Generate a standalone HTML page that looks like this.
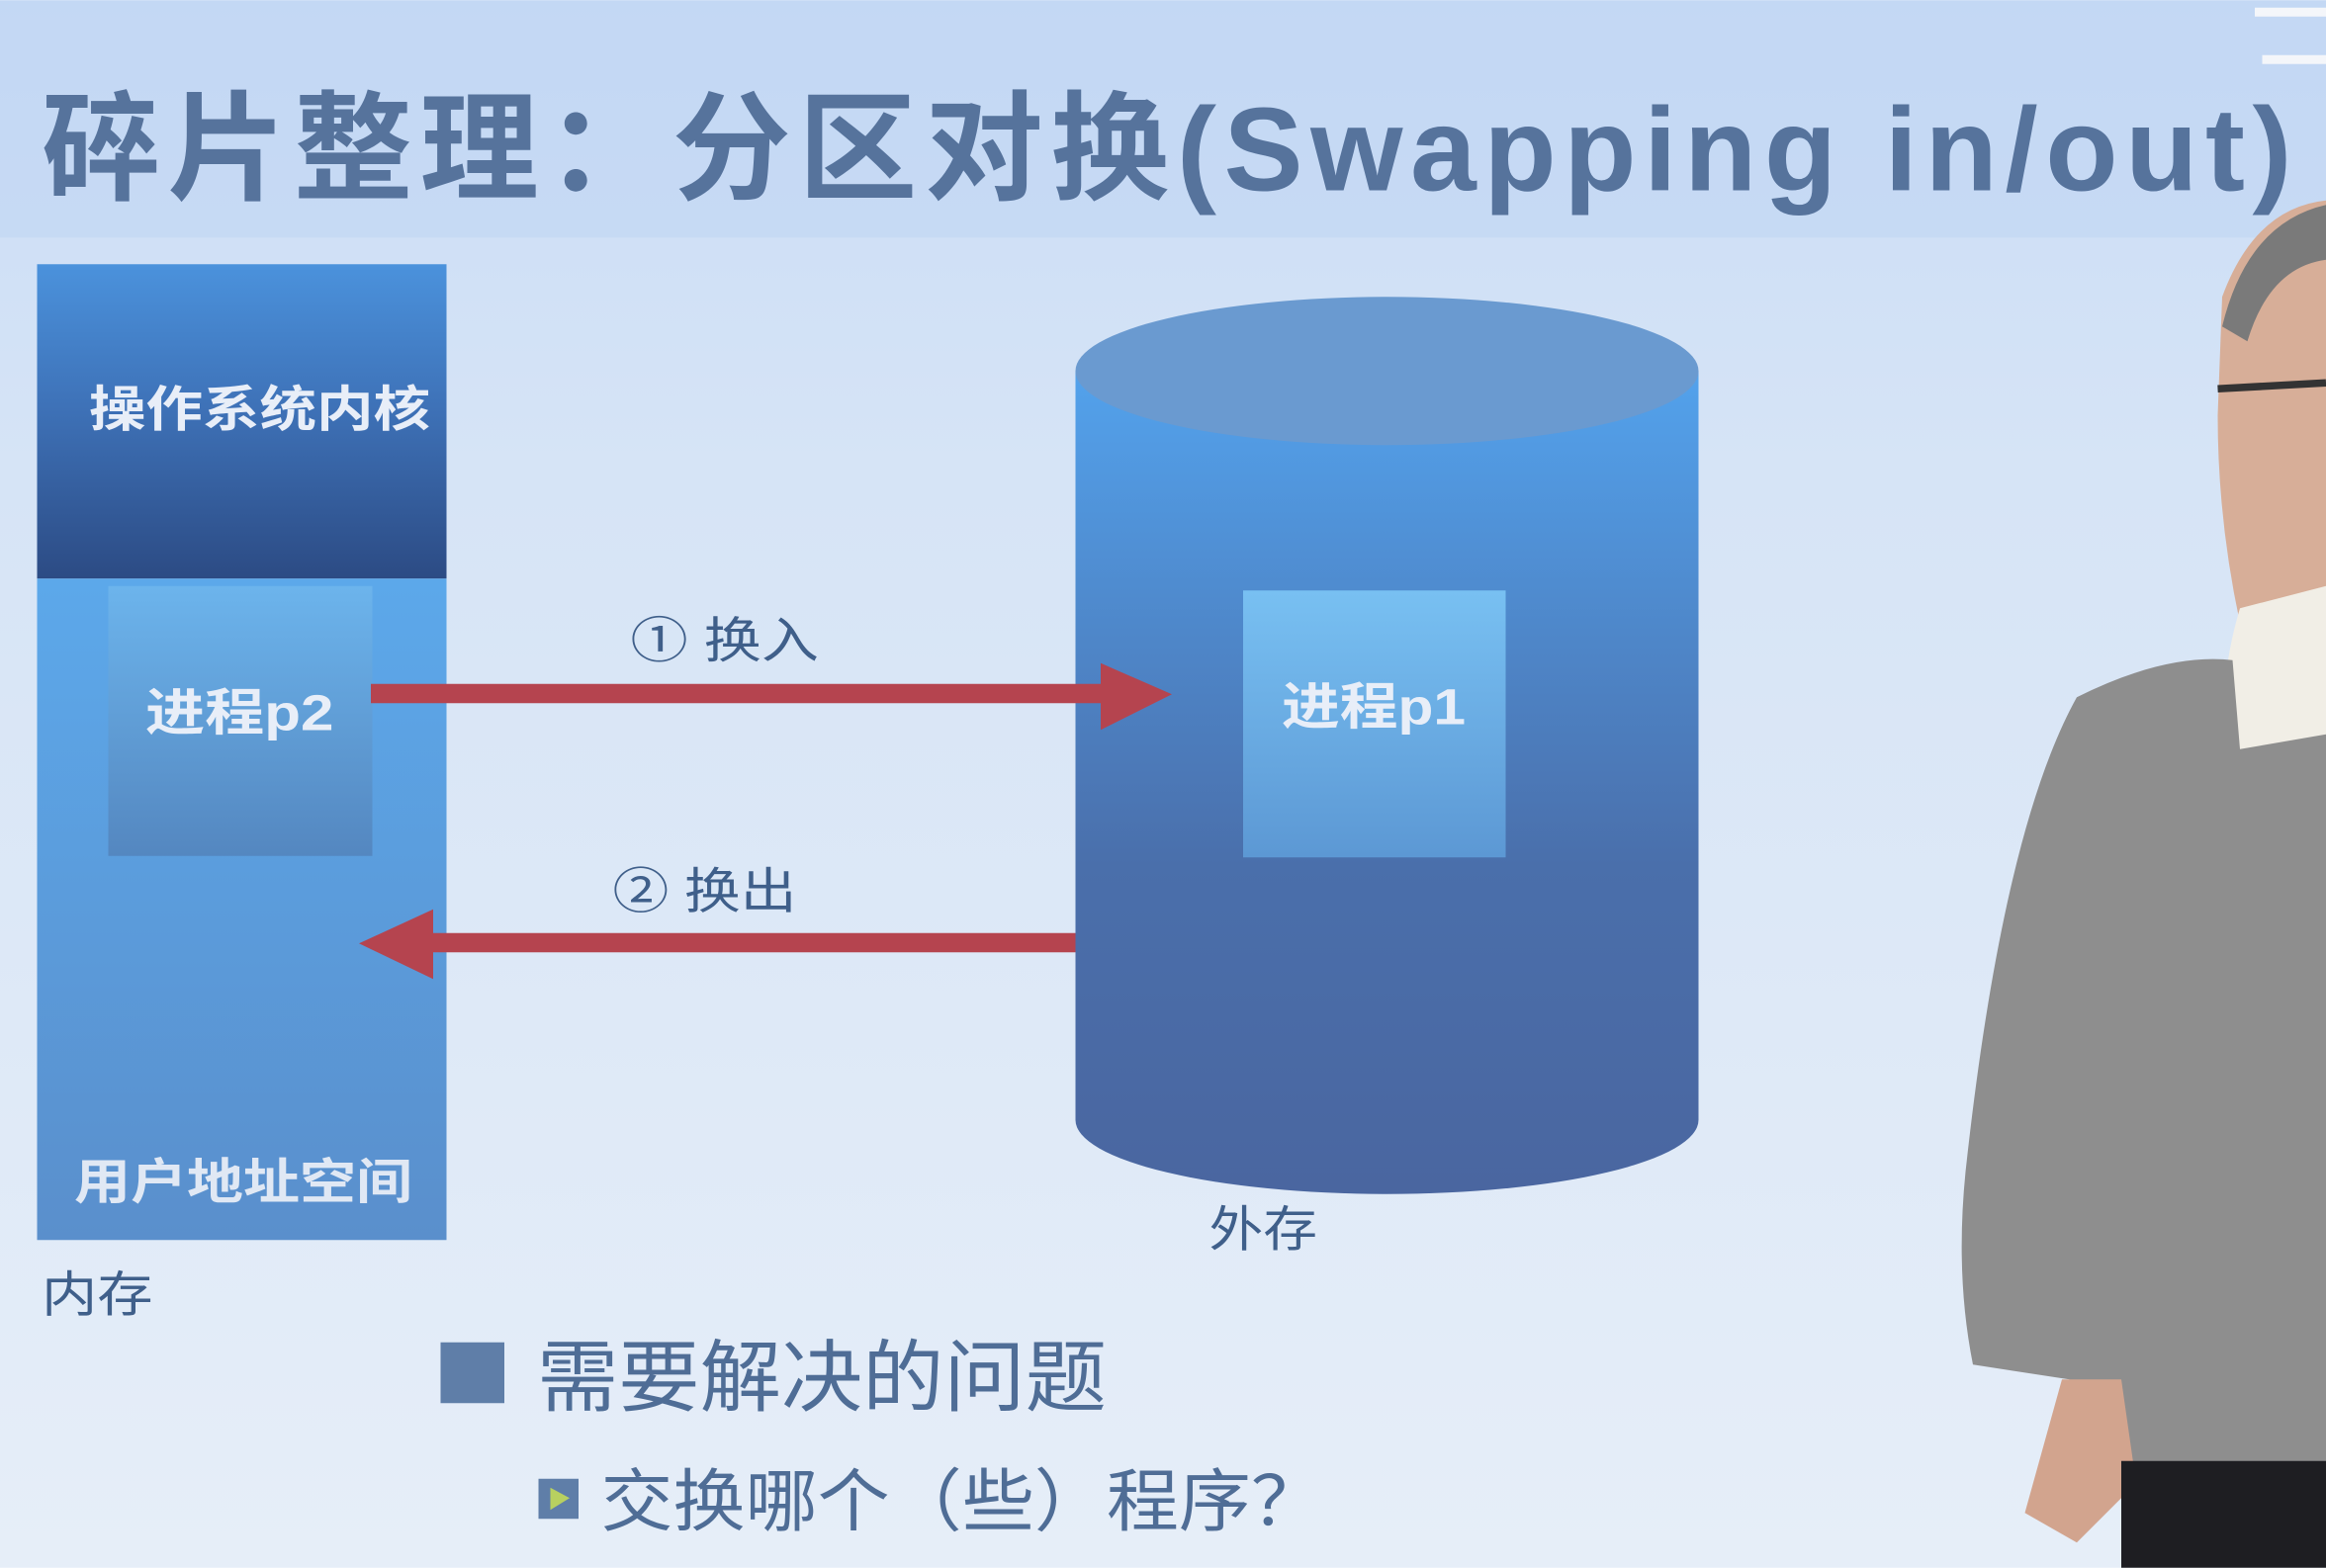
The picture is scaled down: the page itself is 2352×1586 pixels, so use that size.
<!DOCTYPE html>
<html><head><meta charset="utf-8"><style>
html,body{margin:0;padding:0;width:2352px;height:1586px;overflow:hidden}
svg{display:block}
text{font-family:"Liberation Sans","Noto Sans CJK SC",sans-serif}
</style></head><body>
<svg width="2352" height="1586" viewBox="0 0 1568 1057" xmlns="http://www.w3.org/2000/svg">
<defs>
<linearGradient id="bg" x1="0" y1="0" x2="0" y2="1"><stop offset="0" stop-color="#c9dcf5"/><stop offset="0.3" stop-color="#d6e4f6"/><stop offset="1" stop-color="#e6eef8"/></linearGradient>
<linearGradient id="os" x1="0" y1="0" x2="0" y2="1"><stop offset="0" stop-color="#4b92dc"/><stop offset="0.45" stop-color="#3e72b8"/><stop offset="1" stop-color="#2c4b84"/></linearGradient>
<linearGradient id="us" x1="0" y1="0" x2="0" y2="1"><stop offset="0" stop-color="#5ca8ea"/><stop offset="1" stop-color="#5a8fcc"/></linearGradient>
<linearGradient id="p2" x1="0" y1="0" x2="0" y2="1"><stop offset="0" stop-color="#6cb4ec"/><stop offset="1" stop-color="#5487c0"/></linearGradient>
<linearGradient id="cyl" x1="0" y1="0" x2="0" y2="1"><stop offset="0" stop-color="#53a2ec"/><stop offset="0.6" stop-color="#4a6fab"/><stop offset="1" stop-color="#4a66a0"/></linearGradient>
<linearGradient id="p1" x1="0" y1="0" x2="0" y2="1"><stop offset="0" stop-color="#78c0f2"/><stop offset="1" stop-color="#5c98d4"/></linearGradient>
</defs>
<rect width="1568" height="1057" fill="url(#bg)"/>
<rect width="1568" height="160" fill="#bdd3f3" opacity="0.5"/>
<text x="28" y="128" font-size="80" font-weight="bold" fill="#56739c" textLength="1517" lengthAdjust="spacing">碎片整理：分区对换(Swapping in/out)</text>
<!-- memory -->
<rect x="25" y="178" width="276" height="212" fill="url(#os)"/>
<rect x="25" y="390" width="276" height="446" fill="url(#us)"/>
<rect x="73" y="395" width="178" height="182" fill="url(#p2)"/>
<text x="60" y="287" font-size="33" font-weight="bold" fill="#e8eef8" textLength="230" lengthAdjust="spacingAndGlyphs">操作系统内核</text>
<text x="98" y="492" font-size="34" font-weight="bold" fill="#e8eef8" textLength="127" lengthAdjust="spacingAndGlyphs">进程p2</text>
<text x="50" y="808" font-size="33" font-weight="bold" fill="#e0e8f4" textLength="228" lengthAdjust="spacingAndGlyphs">用户地址空间</text>
<text x="28" y="884" font-size="33" fill="#3f5f8a" textLength="75" lengthAdjust="spacingAndGlyphs">内存</text>
<!-- cylinder -->
<path d="M725 250 L725 755 A210 50 0 0 0 1145 755 L1145 250 Z" fill="url(#cyl)"/>
<ellipse cx="935" cy="250" rx="210" ry="50" fill="#6a9ad0"/>
<rect x="838" y="398" width="177" height="180" fill="url(#p1)"/>
<text x="864" y="488" font-size="34" font-weight="bold" fill="#e8eef8" textLength="124" lengthAdjust="spacingAndGlyphs">进程p1</text>
<text x="815" y="840" font-size="33" fill="#3f5f8a" textLength="73" lengthAdjust="spacingAndGlyphs">外存</text>
<!-- arrows -->
<rect x="250" y="461" width="500" height="13" fill="#b5444f"/>
<polygon points="742,447 790,468 742,492" fill="#b5444f"/>
<rect x="285" y="629" width="440" height="13" fill="#b5444f"/>
<polygon points="292,613 242,636 292,660" fill="#b5444f"/>
<text x="425" y="443" font-size="33" fill="#3f5f8a" textLength="127" lengthAdjust="spacingAndGlyphs">① 换入</text>
<text x="413" y="612" font-size="33" fill="#3f5f8a" textLength="124" lengthAdjust="spacingAndGlyphs">② 换出</text>
<!-- bullets -->
<rect x="297" y="905" width="43" height="41" fill="#5f7ea8"/>
<text x="362" y="947" font-size="53" fill="#4f6d96" textLength="384" lengthAdjust="spacingAndGlyphs">需要解决的问题</text>
<rect x="363" y="997" width="27" height="27" fill="#5f7ea8"/>
<polygon points="371,1003 384,1010 371,1018" fill="#b8d060"/>
<text x="405" y="1028" font-size="46" fill="#4f6d96" textLength="487" lengthAdjust="spacingAndGlyphs">交换哪个（些）程序？</text>
<!-- presenter -->
<path d="M1520 8 L1568 8 M1525 40 L1568 40" stroke="#f4f6fa" stroke-width="6"/>
<path d="M1498 200 Q1520 140 1568 135 L1568 420 L1510 420 Q1495 350 1495 280 Z" fill="#d7ae98"/>
<path d="M1498 220 Q1515 150 1568 138 L1568 175 Q1530 180 1515 230 Z" fill="#7a7a7a"/>
<path d="M1495 262 L1568 258" stroke="#333" stroke-width="5"/>
<path d="M1510 410 L1568 395 L1568 500 L1500 510 Q1495 460 1510 410 Z" fill="#f1eee6"/>
<path d="M1400 470 Q1460 440 1505 445 L1510 505 L1568 495 L1568 990 L1430 990 Q1400 960 1395 930 L1330 920 Q1318 860 1325 790 Q1350 560 1400 470 Z" fill="#8e8e8e"/>
<path d="M1390 930 L1430 930 L1440 1000 L1400 1040 L1365 1020 Z" fill="#d2a48e"/>
<rect x="1430" y="985" width="138" height="72" fill="#1e1e22"/>
</svg>
</body></html>
